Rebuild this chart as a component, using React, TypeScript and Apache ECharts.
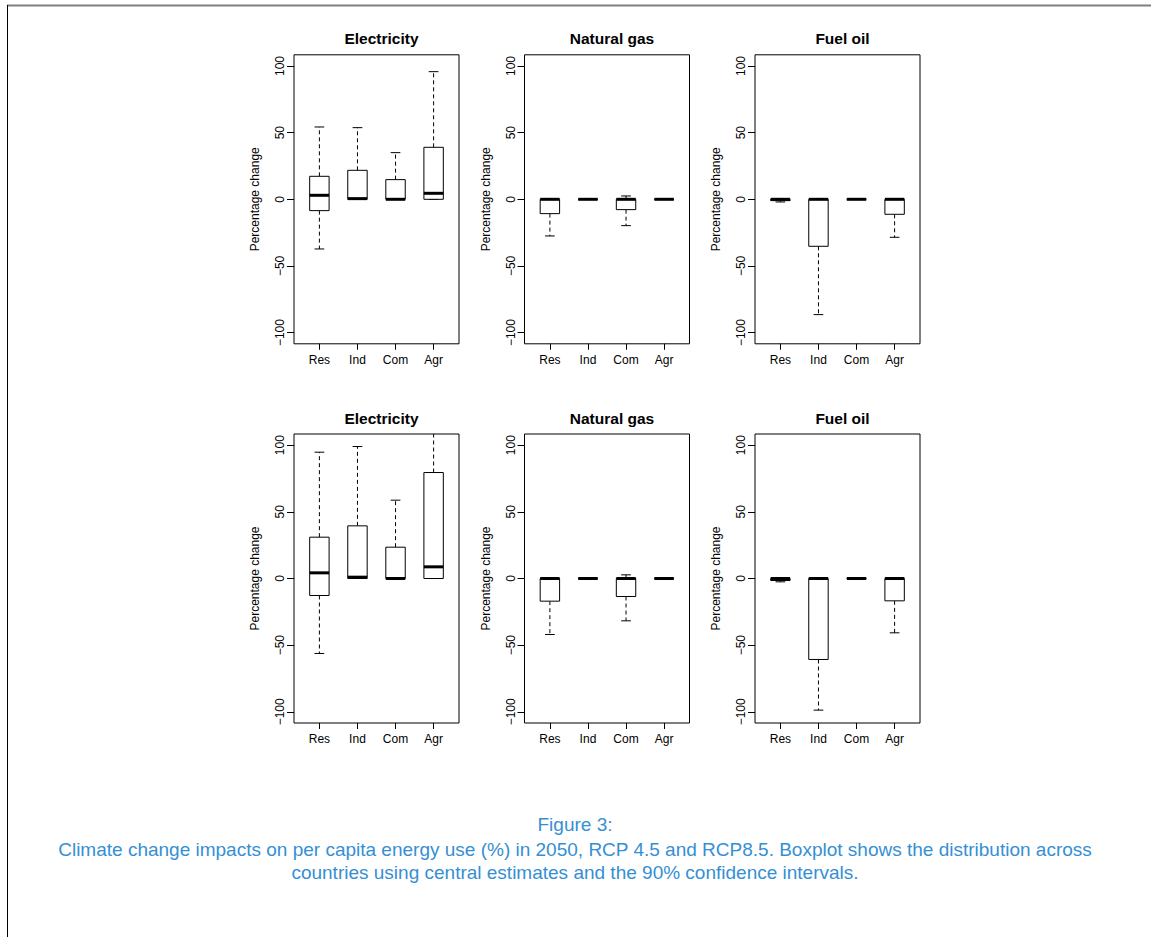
import React, { useEffect, useRef } from "react";
import * as echarts from "echarts";

// ---- Data ----
const categories = ["Res", "Ind", "Com", "Agr"];
const panelTitles = ["Electricity", "Natural gas", "Fuel oil"];
const yTicks = [-100, -50, 0, 50, 100];
const xTicks = [1, 2, 3, 4];

// each entry: [lower whisker, Q1, median, Q3, upper whisker]
const elecRcp45 = [
  [-37.25, -8.5, 3, 17.25, 54.25],
  [0, 0, 0.5, 21.75, 53.75],
  [0, 0, 0, 14.75, 35],
  [0, 0, 4.5, 39, 95.75],
];
const gasRcp45 = [
  [-27.5, -10.75, 0, 0, 0],
  [0, 0, 0, 0, 0],
  [-19.75, -7.75, 0, 0, 2.5],
  [0, 0, 0, 0, 0],
];
const oilRcp45 = [
  [-2, -1, 0, 0, 0],
  [-86.5, -35.25, 0, 0, 0],
  [0, 0, 0, 0, 0],
  [-28.5, -11.25, 0, 0, 0],
];
const elecRcp85 = [
  [-56.25, -12.75, 4.25, 31, 94.75],
  [0, 0, 1, 39.5, 99],
  [0, 0, 0, 23.5, 58.75],
  [0, 0, 8.75, 79.5, 125],
];
const gasRcp85 = [
  [-42, -17, 0, 0, 0],
  [0, 0, 0, 0, 0],
  [-31.75, -13.5, 0, 0, 2.75],
  [0, 0, 0, 0, 0],
];
const oilRcp85 = [
  [-2.5, -1.5, 0, 0, 0],
  [-98.75, -60.75, 0, 0, 0],
  [0, 0, 0, 0, 0],
  [-40.75, -16.75, 0, 0, 0],
];

const panels = [elecRcp45, gasRcp45, oilRcp45, elecRcp85, gasRcp85, oilRcp85];

const captionLines = [
  "Figure 3:",
  "Climate change impacts on per capita energy use (%) in 2050, RCP 4.5 and RCP8.5. Boxplot shows the distribution across",
  "countries using central estimates and the 90% confidence intervals.",
];

// ---- Layout ----
const FONT = "'Liberation Sans', Arial, Helvetica, sans-serif";
const gridLefts = [294, 524.5, 755];
const gridTops = [54.8, 434];
const GRID_W = 165;
const GRID_H = 289;
const Y_MIN = -108.4;
const Y_MAX = 108.4;
const X_MIN = 0.333;
const X_MAX = 4.667;
const CAPTION_COLOR = "#358fd4";

function renderBox(params: any, api: any) {
  const x = api.value(0);
  const lo = api.value(1);
  const q1 = api.value(2);
  const med = api.value(3);
  const q3 = api.value(4);
  const hi = api.value(5);
  const cs = params.coordSys;
  const top = cs.y;
  const bottom = cs.y + cs.height;
  const cx = api.coord([x, med])[0];
  const yLo = api.coord([x, lo])[1];
  const yQ1 = api.coord([x, q1])[1];
  const yMed = api.coord([x, med])[1];
  const yQ3 = api.coord([x, q3])[1];
  const yHi = api.coord([x, hi])[1];
  const halfW = api.size([0.255, 0])[0];
  const capW = halfW / 2;
  const clampY = (y: number) => Math.max(top, Math.min(bottom, y));
  const stroke = "#000";
  const children: any[] = [];
  children.push({
    type: "line",
    shape: { x1: cx, y1: yQ3, x2: cx, y2: clampY(yHi) },
    style: { stroke, lineWidth: 1, lineDash: [4, 3] },
  });
  if (yHi >= top) {
    children.push({
      type: "line",
      shape: { x1: cx - capW, y1: yHi, x2: cx + capW, y2: yHi },
      style: { stroke, lineWidth: 1 },
    });
  }
  children.push({
    type: "line",
    shape: { x1: cx, y1: yQ1, x2: cx, y2: clampY(yLo) },
    style: { stroke, lineWidth: 1, lineDash: [4, 3] },
  });
  if (yLo <= bottom) {
    children.push({
      type: "line",
      shape: { x1: cx - capW, y1: yLo, x2: cx + capW, y2: yLo },
      style: { stroke, lineWidth: 1 },
    });
  }
  children.push({
    type: "rect",
    shape: { x: cx - halfW, y: yQ3, width: 2 * halfW, height: yQ1 - yQ3 },
    style: { fill: "#fff", stroke, lineWidth: 1 },
  });
  children.push({
    type: "line",
    shape: { x1: cx - halfW, y1: yMed, x2: cx + halfW, y2: yMed },
    style: { stroke, lineWidth: 3 },
  });
  return { type: "group", children };
}

export default function App() {
  const ref = useRef<HTMLDivElement>(null);

  useEffect(() => {
    if (!ref.current) return;
    const chart = echarts.init(ref.current, undefined, { renderer: "svg" });

    const grids: any[] = [];
    const xAxes: any[] = [];
    const yAxes: any[] = [];
    const series: any[] = [];
    const titles: any[] = [];

    panels.forEach((panel, i) => {
      const col = i % 3;
      const row = Math.floor(i / 3);
      const left = gridLefts[col];
      const top = gridTops[row];
      grids.push({
        left,
        top,
        width: GRID_W,
        height: GRID_H,
        show: true,
        borderColor: "#000",
        borderWidth: 1,
        backgroundColor: "transparent",
      });
      xAxes.push({
        type: "value",
        gridIndex: i,
        min: X_MIN,
        max: X_MAX,
        axisLine: { show: false, onZero: false },
        axisTick: {
          show: true,
          length: 6,
          customValues: xTicks,
          lineStyle: { color: "#000", width: 1 },
        },
        axisLabel: {
          customValues: xTicks,
          formatter: (v: number) => categories[Math.round(v) - 1] ?? "",
          margin: 10,
          fontSize: 12,
          color: "#000",
          fontFamily: FONT,
        },
        splitLine: { show: false },
      });
      yAxes.push({
        type: "value",
        gridIndex: i,
        min: Y_MIN,
        max: Y_MAX,
        name: "Percentage change",
        nameLocation: "middle",
        nameRotate: 90,
        nameGap: 33,
        nameTextStyle: { fontSize: 12, color: "#000", fontFamily: FONT },
        axisLine: { show: false, onZero: false },
        axisTick: {
          show: true,
          length: 7,
          customValues: yTicks,
          lineStyle: { color: "#000", width: 1 },
        },
        axisLabel: {
          customValues: yTicks,
          rotate: 90,
          margin: 8,
          fontSize: 12,
          color: "#000",
          fontFamily: FONT,
          formatter: (v: number) => (v < 0 ? "\u2212" + Math.abs(v) : String(v)),
        },
        splitLine: { show: false },
      });
      series.push({
        type: "custom",
        xAxisIndex: i,
        yAxisIndex: i,
        renderItem: renderBox,
        encode: { x: 0, y: [1, 2, 3, 4, 5] },
        data: panel.map((vals, k) => [k + 1, ...vals]),
        silent: true,
      });
      titles.push({
        text: panelTitles[col],
        left: left + GRID_W / 2,
        top: top - 29,
        textAlign: "center",
        textStyle: { fontSize: 15.5, fontWeight: "bold", color: "#000", fontFamily: FONT },
      });
    });

    const graphics: any[] = [
      {
        type: "line",
        shape: { x1: 7, y1: 5.5, x2: 1151, y2: 5.5 },
        style: { stroke: "#808080", lineWidth: 2 },
      },
      {
        type: "line",
        shape: { x1: 7.5, y1: 5, x2: 7.5, y2: 937 },
        style: { stroke: "#000", lineWidth: 1 },
      },
    ];
    const captionY = [824, 849, 872];
    captionLines.forEach((t, k) => {
      graphics.push({
        type: "text",
        x: 575,
        y: captionY[k],
        style: {
          text: t,
          fill: CAPTION_COLOR,
          fontSize: 19,
          fontFamily: FONT,
          align: "center",
          verticalAlign: "middle",
        },
      });
    });

    chart.setOption({
      animation: false,
      backgroundColor: "#fff",
      title: titles,
      grid: grids,
      xAxis: xAxes,
      yAxis: yAxes,
      series,
      graphic: graphics,
    });

    return () => chart.dispose();
  }, []);

  return (
    <div
      ref={ref}
      style={{ position: "absolute", left: 0, top: 0, width: 1151, height: 937 }}
    />
  );
}
